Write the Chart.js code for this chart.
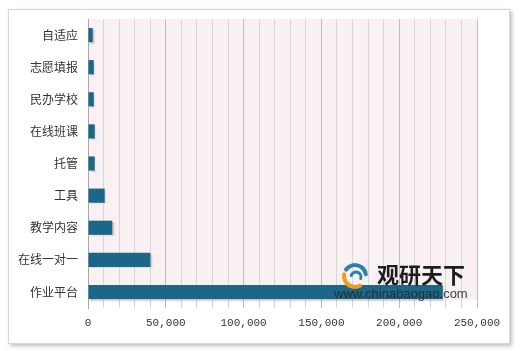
<!DOCTYPE html>
<html>
<head>
<meta charset="utf-8">
<script src="https://cdn.jsdelivr.net/npm/chart.js@4.4.0/dist/chart.umd.min.js"></script>
<style>
    html, body { margin: 0; padding: 0; background: #ffffff; }
    #wrap { position: relative; width: 520px; height: 351px; overflow: hidden; }
    #frame {
        position: absolute; left: 8px; top: 9px; width: 500px; height: 333px;
        border: 1px solid #d6d6d6; background: #ffffff;
        box-shadow: 2px 2px 4px rgba(0, 0, 0, 0.25);
    }
    #appChart { position: absolute; left: 0; top: 0; }
</style>
</head>
<body>
<div id="wrap">
    <div id="frame"></div>
    <canvas id="appChart" width="520" height="351"></canvas>
</div>
<script>
// App categories (top to bottom) and their values
const categories = ['自适应', '志愿填报', '民办学校', '在线班课', '托管', '工具', '教学内容', '在线一对一', '作业平台'];
const values = [3000, 3700, 3700, 4300, 4300, 10700, 15600, 40000, 228000];
const xTickLabels = ['0', '50,000', '100,000', '150,000', '200,000', '250,000'];

/* ========================================
   Plugins: plot background, bar shadow, watermark
   ======================================== */

const plotBackground = {
    id: 'plotBackground',
    beforeDraw(chart) {
        const { ctx, chartArea } = chart;
        ctx.save();
        ctx.fillStyle = '#f9f1f1';
        ctx.fillRect(chartArea.left, chartArea.top, chartArea.right - chartArea.left, chartArea.bottom - 8 - chartArea.top);
        ctx.restore();
    }
};

const barShadow = {
    id: 'barShadow',
    beforeDatasetsDraw(chart) {
        const ctx = chart.ctx;
        ctx.save();
        ctx.shadowColor = 'rgba(0, 0, 0, 0.22)';
        ctx.shadowOffsetX = 1.5;
        ctx.shadowOffsetY = 1.5;
        ctx.shadowBlur = 1.5;
    },
    afterDatasetsDraw(chart) {
        chart.ctx.restore();
    }
};

const watermark = {
    id: 'watermark',
    afterDraw(chart) {
        const ctx = chart.ctx;
        ctx.save();
        // simple swirl logo: orange crescent low-left, blue arcs top-right
        ctx.lineCap = 'round';
        ctx.lineWidth = 4;
        ctx.strokeStyle = '#f39a1c';
        ctx.beginPath();
        ctx.arc(355, 276, 11, Math.PI * 0.35, Math.PI * 1.05);
        ctx.stroke();
        ctx.strokeStyle = '#2a80b3';
        ctx.beginPath();
        ctx.arc(355, 276, 11, Math.PI * 1.2, Math.PI * 1.95);
        ctx.stroke();
        ctx.lineWidth = 3;
        ctx.beginPath();
        ctx.arc(356, 277, 5, Math.PI * 1.1, Math.PI * 0.1);
        ctx.stroke();
        ctx.fillStyle = '#1d1d1d';
        ctx.font = 'bold 22px "Noto Sans CJK SC"';
        ctx.textBaseline = 'middle';
        ctx.fillText('观研天下', 377, 275);
        ctx.fillStyle = 'rgba(40, 40, 40, 0.9)';
        ctx.font = '13px "Liberation Sans"';
        ctx.fillText('www.chinabaogao.com', 334, 294);
        ctx.restore();
    }
};

/* ========================================
   Chart
   ======================================== */

new Chart(document.getElementById('appChart'), {
    type: 'bar',
    data: {
        labels: categories,
        datasets: [{
            data: values,
            backgroundColor: '#1c6688',
            borderWidth: 0,
            barPercentage: 0.44,
            categoryPercentage: 1
        }]
    },
    options: {
        indexAxis: 'y',
        responsive: false,
        animation: false,
        layout: { padding: { left: 0, right: 43, top: 19, bottom: 0 } },
        plugins: {
            legend: { display: false },
            tooltip: { enabled: false }
        },
        scales: {
            x: {
                min: 0,
                max: 250000,
                border: { display: false },
                grid: {
                    drawTicks: false,
                    lineWidth: 1,
                    color: ctx => (ctx.tick && ctx.tick.value % 50000 === 0) ? '#bdbdbd' : '#d6d6d6'
                },
                ticks: {
                    stepSize: 10000,
                    autoSkip: false,
                    maxRotation: 0,
                    padding: 8,
                    color: '#333333',
                    font: { family: '"Liberation Mono", monospace', size: 11 },
                    callback: value => value % 50000 === 0 ? xTickLabels[value / 50000] : ''
                },
                afterFit(scale) { scale.height = 43; }
            },
            y: {
                border: { display: true, color: '#a8a8a8', width: 1 },
                grid: { display: false, drawTicks: false },
                ticks: {
                    padding: 10,
                    color: '#333333',
                    font: { family: '"Noto Sans CJK SC", sans-serif', size: 12 }
                },
                afterFit(scale) { scale.width = 88; }
            }
        }
    },
    plugins: [plotBackground, barShadow, watermark]
});
</script>
</body>
</html>
